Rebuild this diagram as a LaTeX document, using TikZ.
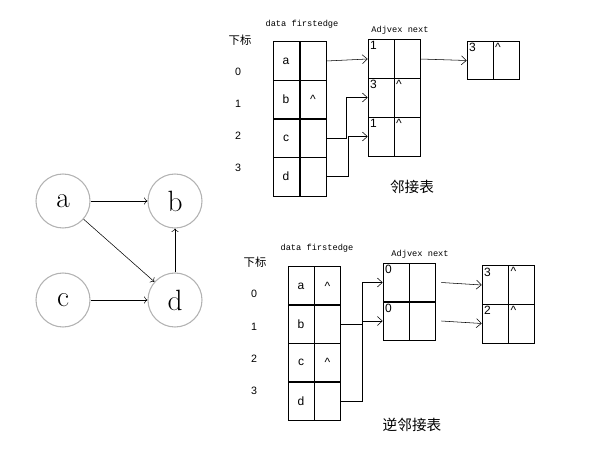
\documentclass[tikz,border=0pt]{standalone}
\usepackage{fontspec}
\newfontfamily\cjk{Noto Sans CJK SC}
\newfontfamily\mono{Liberation Mono}
\newfontfamily\sans{Liberation Sans}
\usetikzlibrary{arrows.meta}
\tikzset{
    vertex/.style={draw=black!30, thick, circle, minimum size=40.5pt, inner sep=0pt, font=\fontsize{22}{22}\selectfont},
    cell/.style={draw, minimum width=19.5pt, minimum height=28.9pt, inner sep=0pt, font=\sans\fontsize{9}{9}\selectfont},
    tl/.style={label={[anchor=north west, inner sep=1.5pt, font=\sans\fontsize{9}{9}\selectfont]north west:#1}},
    arr/.style={-{Straight Barb[length=3.75pt, width=6.75pt]}},
    idx/.style={font=\sans\fontsize{8}{8}\selectfont},
    hdr/.style={font=\mono\fontsize{6.5}{6.5}\selectfont},
    caption/.style={font=\cjk\fontsize{11}{11}\selectfont},
    sub/.style={font=\cjk\fontsize{8.5}{8.5}\selectfont}
}
\begin{document}
\begin{tikzpicture}[x=0.75pt, y=-0.75pt]
    \useasboundingbox (0,0) rectangle (614,453);
    % graph
    \node[vertex] (a) at (63,201) {a};
    \node[vertex] (b) at (175,201) {b};
    \node[vertex] (c) at (63,300) {c};
    \node[vertex] (d) at (175,300) {d};
    \draw[->] (a) -- (b);
    \draw[->] (a) -- (d);
    \draw[->] (c) -- (d);
    \draw[->] (d) -- (b);

    % adjacency list
    \node[sub] (tidx) at (240,40) {下标};
    \node[idx] (ti0) at (238,72) {0};
    \node[idx] (ti1) at (238,104) {1};
    \node[idx] (ti2) at (238,136) {2};
    \node[idx] (ti3) at (238,168) {3};
    \node[hdr] (thead) at (302,24) {data firstedge};
    \node[cell] (ta) at (286,61) {a};
    \node[cell] (tap) at (313,61) {};
    \node[cell] (tb) at (286,99.5) {b};
    \node[cell] (tbp) at (313,99.5) {\^{}};
    \node[cell] (tc) at (286,138) {c};
    \node[cell] (tcp) at (313,138) {};
    \node[cell] (td) at (286,176.5) {d};
    \node[cell] (tdp) at (313,176.5) {};
    \node[hdr] (tadj) at (400,30) {Adjvex next};
    \node[cell, tl=1] (tn0) at (381,59) {};
    \node[cell] (tn0p) at (407,59) {};
    \node[cell, tl=3] (tn1) at (381,97.5) {};
    \node[cell, tl=\^{}] (tn1p) at (407,97.5) {};
    \node[cell, tl=1] (tn2) at (381,136.5) {};
    \node[cell, tl=\^{}] (tn2p) at (407,136.5) {};
    \node[cell, tl=3] (tm0) at (480,60.5) {};
    \node[cell, tl=\^{}] (tm0p) at (506,60.5) {};
    \draw[arr] (tap.east) -- (tn0.west);
    \draw[arr] (tn0p.east) -- (tm0.west);
    \draw[arr] (tcp.east) -- ++(20,0) |- (tn1.west);
    \draw[arr] (tdp.east) -- ++(22,0) |- (tn2.west);
    \node[caption] (tcap) at (412,187) {邻接表};

    % inverse adjacency list
    \node[sub] (bidx) at (255,262) {下标};
    \node[idx] (bi0) at (254,294) {0};
    \node[idx] (bi1) at (254,327) {1};
    \node[idx] (bi2) at (254,359) {2};
    \node[idx] (bi3) at (254,391) {3};
    \node[hdr] (bhead) at (317,248) {data firstedge};
    \node[cell] (ba) at (301,286) {a};
    \node[cell] (bap) at (327.5,286) {\^{}};
    \node[cell] (bb) at (301,324) {b};
    \node[cell] (bbp) at (327.5,324) {};
    \node[cell] (bc) at (301,362.5) {c};
    \node[cell] (bcp) at (327.5,362.5) {\^{}};
    \node[cell] (bd) at (301,401) {d};
    \node[cell] (bdp) at (327.5,401) {};
    \node[hdr] (badj) at (420,254) {Adjvex next};
    \node[cell, tl=0] (bn0) at (396,282.5) {};
    \node[cell] (bn0p) at (422,282.5) {};
    \node[cell, tl=0] (bn1) at (396,321) {};
    \node[cell] (bn1p) at (422,321) {};
    \node[cell, tl=3] (bm0) at (495,285) {};
    \node[cell, tl=\^{}] (bm0p) at (521.5,285) {};
    \node[cell, tl=2] (bm1) at (495,323.5) {};
    \node[cell, tl=\^{}] (bm1p) at (521.5,323.5) {};
    \draw[arr] (bbp.east) -- ++(21,0) |- (bn0.west);
    \draw[arr] (bdp.east) -- ++(21,0) |- (bn1.west);
    \draw[arr] ([xshift=4.5pt]bn0p.east) -- (bm0.west);
    \draw[arr] ([xshift=4.5pt]bn1p.east) -- (bm1.west);
    \node[caption] (bcap) at (412,425) {逆邻接表};
\end{tikzpicture}
\end{document}
